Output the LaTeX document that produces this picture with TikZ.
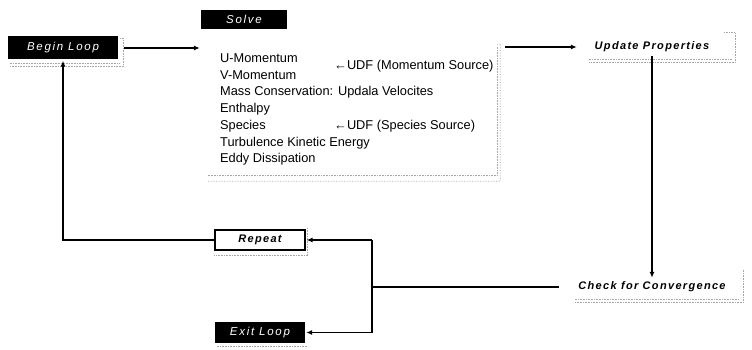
\documentclass[tikz,border=0pt]{standalone}
\usepackage{fontspec}
\setmainfont{Liberation Sans}
\newfontfamily\boxfont[LetterSpace=15]{Liberation Sans}
\newfontfamily\boldboxfont[LetterSpace=12]{Liberation Sans}
\usetikzlibrary{arrows.meta}
\begin{document}
\begin{tikzpicture}[x=1pt,y=-1pt,
  blackbox/.style={fill=black,text=white,font=\boxfont\fontsize{11.5}{13}\selectfont\itshape,inner sep=0pt},
  whitebox/.style={draw=black,line width=1.1pt,fill=white,font=\boldboxfont\fontsize{11}{13}\selectfont\bfseries\itshape,inner sep=0pt},
  plainlabel/.style={font=\boldboxfont\fontsize{11}{13}\selectfont\bfseries\itshape,inner sep=0pt},
  bodytext/.style={font=\fontsize{12.8}{14}\selectfont,anchor=west,inner sep=0pt},
  conn/.style={line width=1.6pt,black},
  arr/.style={conn,-{Latex[length=6pt,width=5pt]}},
  shadowline/.style={gray!70,densely dotted,line width=0.6pt}
]
\useasboundingbox (0,0) rectangle (752,350);

% nodes
\node[blackbox,minimum width=110pt,minimum height=23pt] (begin) at (63,48) {Begin Loop};
\node[blackbox,minimum width=86pt,minimum height=19pt] (solve) at (244,19.5) {Solve};
\node[inner sep=0pt,minimum width=300pt,minimum height=136pt] (body) at (350,113) {};
\node[plainlabel,minimum width=150pt,minimum height=18pt] (upd) at (652,47) {Update Properties};
\node[plainlabel,minimum width=190pt,minimum height=18pt] (check) at (652,287) {Check for Convergence};
\node[whitebox,minimum width=90pt,minimum height=20pt] (rep) at (260,240) {Repeat};
\node[blackbox,minimum width=90pt,minimum height=21pt] (exit) at (260,332.5) {Exit Loop};
\coordinate (j) at (372,287);

% body text
\node[bodytext] (t1) at (220,58) {U-Momentum};
\node[bodytext] (t2) at (220,75) {V-Momentum};
\node[bodytext] (t3) at (220,92) {Mass Conservation: Updala Velocites};
\node[bodytext] (t4) at (220,109) {Enthalpy};
\node[bodytext] (t5) at (220,126) {Species};
\node[bodytext] (t6) at (220,143) {Turbulence Kinetic Energy};
\node[bodytext] (t7) at (220,159.5) {Eddy Dissipation};
\node[bodytext] (u1) at (334,66) {←UDF (Momentum Source)};
\node[bodytext] (u2) at (334,126.5) {←UDF (Species Source)};

% shadow frames (canvas: negative yshift = downwards)
\draw[shadowline] ([xshift=2pt,yshift=-2pt]begin.north east) -- ([xshift=5pt,yshift=-2pt]begin.north east) -- ([xshift=5pt,yshift=-7pt]begin.south east) -- ([xshift=2pt,yshift=-7pt]begin.south west);
\draw[shadowline] ([xshift=2pt,yshift=-4pt]begin.south west) -- ([xshift=2pt,yshift=-4pt]begin.south east);
\draw[shadowline] ([xshift=-3pt]body.north east) -- ([yshift=1pt]body.north east) -- (body.south east) -- ([xshift=8pt]body.south west);
\draw[shadowline] ([xshift=-3pt,yshift=-2pt]body.north east) -- ([xshift=-3pt,yshift=6pt]body.south east) -- ([xshift=8pt,yshift=6pt]body.south west);
\draw[shadowline] ([xshift=-3pt,yshift=5pt]upd.north east) -- ([xshift=8pt,yshift=5pt]upd.north east) -- ([xshift=8pt,yshift=-6pt]upd.south east) -- ([xshift=12pt,yshift=-6pt]upd.south west);
\draw[shadowline] ([xshift=12pt,yshift=-3pt]upd.south west) -- ([xshift=5pt,yshift=-3pt]upd.south east);
\draw[shadowline] ([xshift=-4pt,yshift=8pt]check.north east) -- ([xshift=-4pt,yshift=-6pt]check.south east) -- ([xshift=18pt,yshift=-6pt]check.south west);
\draw[shadowline] ([xshift=18pt,yshift=-3pt]check.south west) -- ([xshift=-8pt,yshift=-3pt]check.south east);
\draw[shadowline] ([yshift=-5pt]rep.south west) -- ([xshift=2pt,yshift=-5pt]rep.south east) -- ([xshift=2pt,yshift=2pt]rep.north east);
\draw[shadowline] ([xshift=2pt,yshift=-3pt]exit.south west) -- ([xshift=2pt,yshift=-3pt]exit.south east);

% connectors
\draw[arr] ([xshift=6pt]begin.east) -- (begin.east -| body.west);
\draw[arr] ([xshift=5pt]body.east |- upd.west) -- (upd.west);
\draw[arr] (upd.south) -- (upd.south |- check.north);
\draw[conn] ([xshift=2pt]check.west) -- (j);
\draw[conn] (j |- rep.east) -- (j |- exit.east);
\draw[arr] (j |- rep.east) -- ([xshift=1pt]rep.east);
\draw[arr] (j |- exit.east) -- ([xshift=1pt]exit.east);
\draw[arr] (rep.west) -| ([yshift=-1pt]begin.south);
\end{tikzpicture}
\end{document}
